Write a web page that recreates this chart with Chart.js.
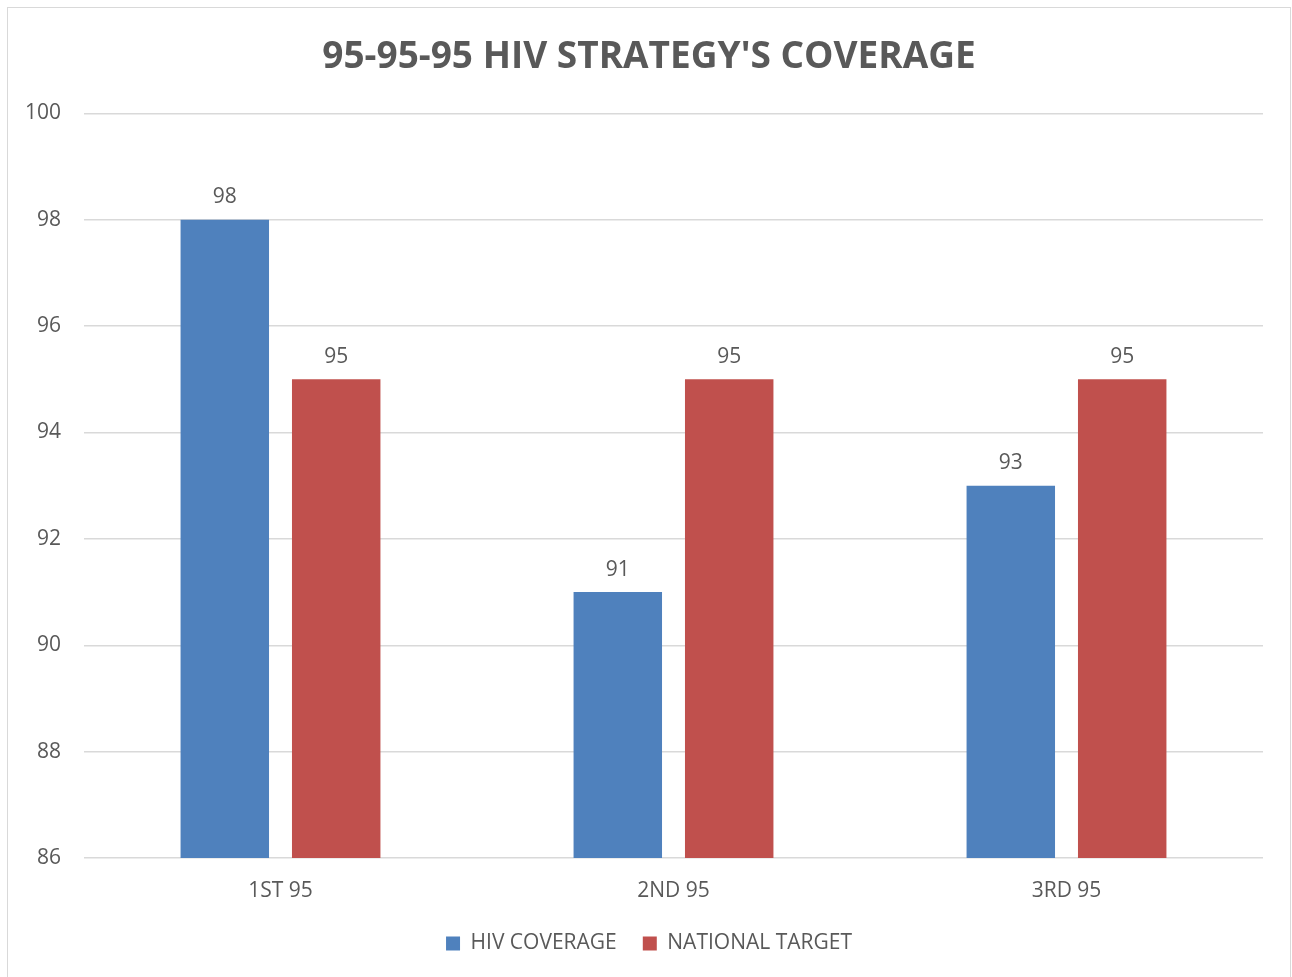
<!DOCTYPE html>
<html>
<head>
<meta charset="utf-8">
<script src="https://cdn.jsdelivr.net/npm/chart.js@4.4.1/dist/chart.umd.min.js"></script>
<style>
  html, body { margin: 0; padding: 0; background: #ffffff; overflow: hidden; }
  #frame {
    position: absolute; left: 7px; top: 7px;
    width: 1282px; height: 990px;
    border: 1px solid #d9d9d9;
  }
  canvas { display: block; }
</style>
</head>
<body>
<div id="frame"><canvas id="chart" width="1282" height="969"></canvas></div>
<script>
/* ---------- Datos ---------- */
const categories = ['1ST 95', '2ND 95', '3RD 95'];
const hivCoverage = [98, 91, 93];
const nationalTarget = [95, 95, 95];
const seriesNames = ['HIV COVERAGE', 'NATIONAL TARGET'];

/* ---------- Colores / fuentes ---------- */
const TEXT = '#595959';
const GRID = '#d9d9d9';
const BLUE = '#4f81bd';
const RED = '#c0504d';
const FONT = "'Open Sans', 'Liberation Sans', sans-serif";

/* etiquetas de valor encima de cada barra */
const barValues = {
  id: 'barValues',
  afterDatasetsDraw(chart) {
    const ctx = chart.ctx;
    ctx.save();
    ctx.font = '21px ' + FONT;
    ctx.fillStyle = TEXT;
    ctx.textAlign = 'center';
    ctx.textBaseline = 'bottom';
    chart.data.datasets.forEach((ds, di) => {
      chart.getDatasetMeta(di).data.forEach((bar, i) => {
        ctx.fillText(String(ds.data[i]), bar.x, bar.y - 12);
      });
    });
    ctx.restore();
  }
};

new Chart(document.getElementById('chart'), {
  type: 'bar',
  data: {
    labels: categories,
    datasets: [
      { label: seriesNames[0], data: hivCoverage, backgroundColor: BLUE },
      { label: seriesNames[1], data: nationalTarget, backgroundColor: RED }
    ]
  },
  options: {
    responsive: false,
    animation: false,
    devicePixelRatio: 1,
    categoryPercentage: 0.567,
    barPercentage: 0.794,
    layout: { padding: { left: 0, right: 0, top: 27, bottom: 13 } },
    plugins: {
      title: {
        display: true,
        text: "95-95-95 HIV STRATEGY'S COVERAGE",
        color: TEXT,
        font: { family: FONT, size: 37, weight: 'bold' },
        padding: { top: 0, bottom: 34 }
      },
      legend: {
        position: 'bottom',
        labels: {
          color: TEXT,
          font: { family: FONT, size: 21 },
          boxWidth: 14, boxHeight: 14, padding: 26
        }
      },
      tooltip: { enabled: false }
    },
    scales: {
      x: {
        afterFit: s => { s.height = 49; },
        grid: { display: false, drawTicks: false },
        border: { display: false },
        ticks: { color: TEXT, font: { family: FONT, size: 21 }, padding: 20 }
      },
      y: {
        min: 86, max: 100,
        afterFit: s => { s.width = 76; },
        grid: { color: GRID, lineWidth: 1.5, drawTicks: false },
        border: { display: false },
        ticks: { stepSize: 2, color: TEXT, font: { family: FONT, size: 21 }, padding: 23 }
      },
      // margen derecho vacío del área de trazado
      yRight: {
        position: 'right',
        min: 86, max: 100,
        afterFit: s => { s.width = 27; },
        grid: { display: false, drawTicks: false },
        border: { display: false },
        ticks: { display: false }
      }
    }
  },
  plugins: [barValues]
});
</script>
</body>
</html>
